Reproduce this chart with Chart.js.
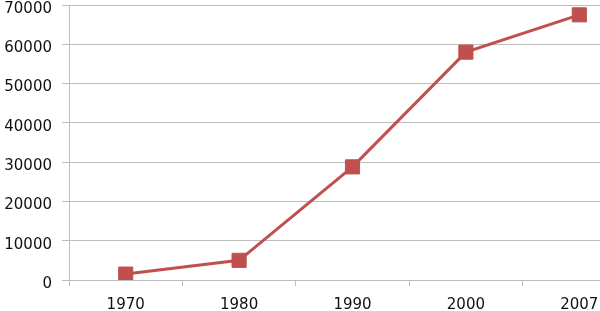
<!DOCTYPE html>
<html>
<head>
<meta charset="utf-8">
<script src="https://cdn.jsdelivr.net/npm/chart.js@4"></script>
<style>
    html, body { margin: 0; padding: 0; background: #fff; overflow: hidden; }
    #chart { display: block; margin-top: -13px; }
</style>
</head>
<body>
<canvas id="chart" width="636" height="324"></canvas>
<script>
    /**
     * Data
     */
    const years = ['1970', '1980', '1990', '2000', '2007'];
    const values = [1500, 5000, 28800, 58000, 67500];

    /**
     * Ticks
     */
    const yMin = 0;
    const yMax = 70000;
    const yStep = 10000;

    const red = '#C0504D';
    const gray = '#BEBEBE';

    const chart = new Chart(document.getElementById('chart'), {
        type: 'line',
        data: {
            labels: years,
            datasets: [{
                label: 'Value',
                data: values,
                borderColor: red,
                backgroundColor: red,
                borderWidth: 3,
                tension: 0,
                pointStyle: 'rect',
                pointRadius: 10,
                pointBorderWidth: 1,
                pointBackgroundColor: red,
                pointBorderColor: red
            }]
        },
        options: {
            responsive: false,
            animation: false,
            layout: { padding: 0, autoPadding: false },
            plugins: {
                legend: { display: false },
                tooltip: { enabled: false }
            },
            scales: {
                x: {
                    offset: true,
                    grid: {
                        offset: true,
                        drawOnChartArea: false,
                        color: gray,
                        tickLength: 6
                    },
                    border: { color: gray },
                    ticks: {
                        color: '#111',
                        padding: 12,
                        maxRotation: 0,
                        font: { family: 'DejaVu Sans', size: 15, lineHeight: 1 }
                    },
                    afterFit: function (scale) { scale.height = 31; }
                },
                y: {
                    min: yMin,
                    max: yMax,
                    grid: {
                        color: gray,
                        tickLength: 7
                    },
                    border: { color: gray },
                    ticks: {
                        stepSize: yStep,
                        color: '#111',
                        padding: 10,
                        // small line height + empty first line nudges labels ~4px down
                        font: { family: 'DejaVu Sans', size: 15, lineHeight: '8px' },
                        callback: function (v) { return ['', String(v)]; }
                    },
                    afterFit: function (scale) { scale.width = 69; }
                }
            }
        }
    });
</script>
</body>
</html>
